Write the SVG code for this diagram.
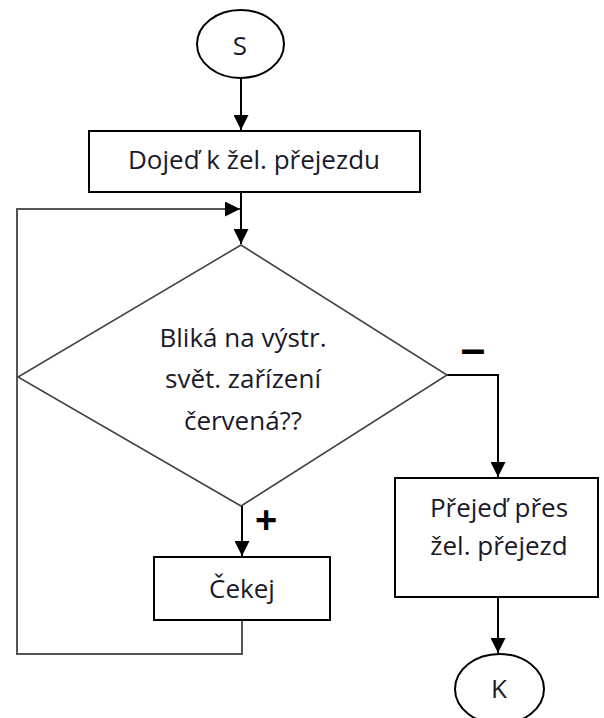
<svg xmlns="http://www.w3.org/2000/svg" width="604" height="718" viewBox="0 0 604 718">
<style>
.shape{fill:#fff;stroke:#000;stroke-width:2}
.dia{fill:#fff;stroke:#444;stroke-width:1.6}
.conn{fill:none;stroke:#000;stroke-width:2}
.conn2{fill:none;stroke:#555;stroke-width:2}
text{font-family:"Open Sans","Liberation Sans",sans-serif;font-size:26px;fill:#1a1a2a;text-anchor:middle}
text.minus{font-family:"Liberation Sans",sans-serif;font-weight:bold;fill:#000;font-size:44px}
text.plus{font-family:"Liberation Sans",sans-serif;font-weight:bold;fill:#000;font-size:38px}
</style>
<defs>
<marker id="arr" viewBox="0 0 10 10" refX="10" refY="5" markerWidth="15" markerHeight="15" markerUnits="userSpaceOnUse" orient="auto">
<path d="M0,0 L10,5 L0,10 z" fill="#000"/>
</marker>
</defs>
<rect width="604" height="718" fill="#fff"/>
<g id="connectors">
<path class="conn" d="M241,78 V130" marker-end="url(#arr)"/>
<path class="conn" d="M241,192 V244" marker-end="url(#arr)"/>
<path class="conn2" d="M242,620 V654 H17 V209 H240" marker-end="url(#arr)"/>
<path class="conn" d="M447,375 H498 V477" marker-end="url(#arr)"/>
<path class="conn" d="M242,506 V556" marker-end="url(#arr)"/>
<path class="conn" d="M498,598 V653" marker-end="url(#arr)"/>
<text class="minus" x="473" y="364">–</text>
<text class="plus" x="266" y="533">+</text>
</g>
<g id="start">
<ellipse class="shape" cx="240.5" cy="44" rx="43.5" ry="34"/>
<text x="240" y="55">S</text>
</g>
<g id="drive">
<rect class="shape" x="89" y="131" width="331" height="61"/>
<text x="254" y="169">Dojeď k žel. přejezdu</text>
</g>
<g id="decision">
<path class="dia" d="M241,245 L447,375 L241,506 L18,377 Z"/>
<text x="243" y="347">Bliká na výstr.</text>
<text x="243" y="388">svět. zařízení</text>
<text x="243" y="430">červená??</text>
</g>
<g id="cross">
<rect class="shape" x="395" y="478" width="203" height="119"/>
<text x="499" y="517">Přejeď přes</text>
<text x="499" y="555">žel. přejezd</text>
</g>
<g id="wait">
<rect class="shape" x="154" y="557" width="176" height="63"/>
<text x="242" y="598">Čekej</text>
</g>
<g id="end">
<ellipse class="shape" cx="499.5" cy="689" rx="44.5" ry="35"/>
<text x="499" y="698">K</text>
</g>
</svg>
